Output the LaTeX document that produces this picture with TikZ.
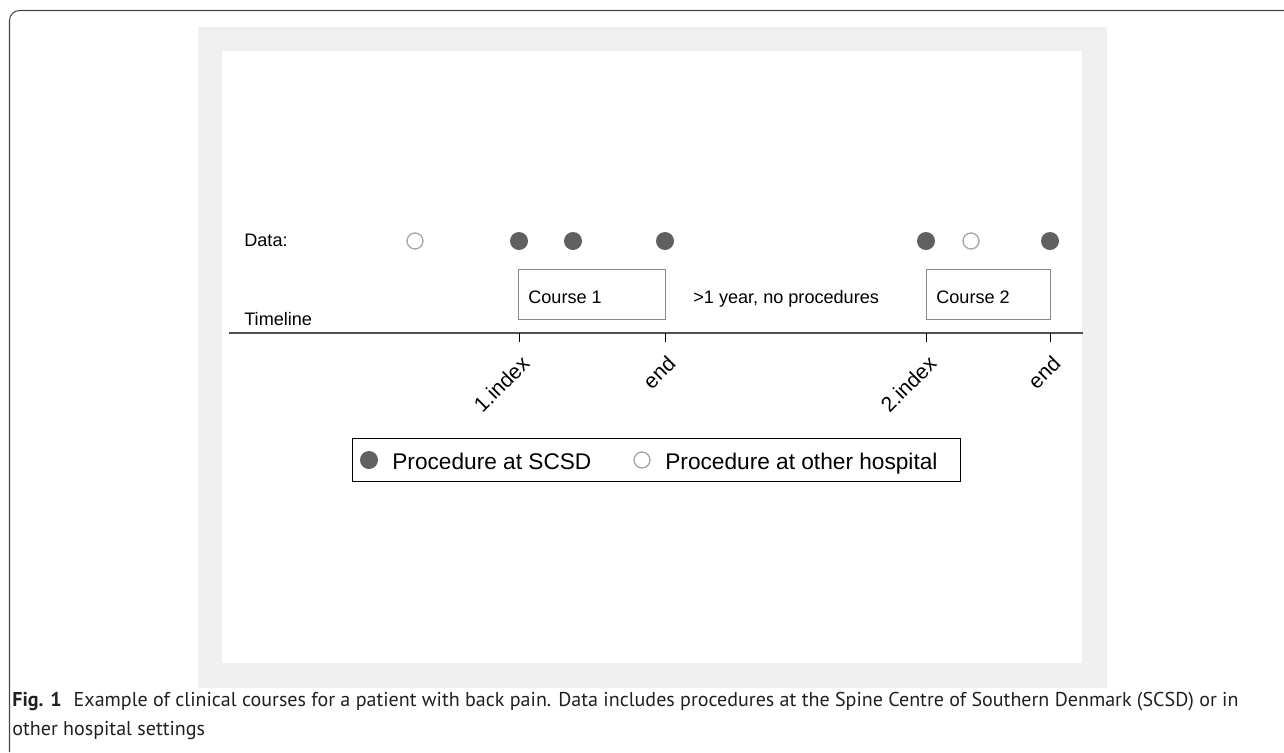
\documentclass[tikz,border=0pt]{standalone}
\usepackage{fontspec}
\setmainfont{Liberation Sans}
\newfontfamily\capfont{PT Sans}
\usetikzlibrary{positioning}
\definecolor{panelgray}{RGB}{240,240,240}
\definecolor{dotgray}{RGB}{96,96,96}
\definecolor{ringgray}{RGB}{165,165,165}
\definecolor{boxgray}{RGB}{136,136,136}
\definecolor{axisgray}{RGB}{80,80,80}
\definecolor{framegray}{RGB}{70,70,70}
\definecolor{captext}{RGB}{35,31,32}

\begin{document}
\begin{tikzpicture}[
        x=0.02cm, y=-0.02cm,
        plottext/.style={font=\fontsize{10.3}{12}\selectfont, inner sep=0pt},
        legtext/.style={font=\fontsize{12.9}{15}\selectfont, inner sep=0pt},
        captxt/.style={font=\capfont\fontsize{11.4}{13}\selectfont, text=captext, inner sep=0pt},
        scsd/.style={circle, fill=dotgray, minimum size=0.36cm, inner sep=0pt},
        other/.style={circle, draw=ringgray, line width=0.75pt, fill=white, minimum size=0.32cm, inner sep=0pt},
        coursebox/.style={draw=boxgray, line width=0.75pt, minimum width=2.94cm, minimum height=1cm, inner sep=0pt},
        tickmark/.style={draw=black, line width=0.5pt},
        ticklbl/.style={font=\fontsize{12}{14}\selectfont, inner sep=0pt, rotate=45, anchor=north east}
    ]
        \useasboundingbox (0,0) rectangle (1284,752);
        % outer frame and graph panel
        \draw[framegray, line width=0.6pt, rounded corners=0.2cm] (1284,10.5) -- (9.5,10.5) -- (9.5,752);
        \fill[panelgray] (198,27) rectangle (1107,688);
        \fill[white] (222,51) rectangle (1082,663);

        % row labels
        \node[plottext, anchor=base west] (datalbl) at (244,246) {Data:};
        \node[plottext, anchor=base west] (timelbl) at (244,325) {Timeline};

        % timeline axis and ticks
        \coordinate (axisL) at (229,333);
        \coordinate (axisR) at (1083,333);
        \draw[axisgray, line width=1pt] (axisL) -- (axisR);
        \coordinate (idx1) at (519,333);
        \coordinate (end1) at (665,333);
        \coordinate (idx2) at (926,333);
        \coordinate (end2) at (1050,333);
        \foreach \t/\lbl in {idx1/1.index, end1/end, idx2/2.index, end2/end}{
            \draw[tickmark] (\t) -- ++(0,9);
            \node[ticklbl] (\t-lbl) at ([shift={(1,21)}]\t) {\lbl};
        }

        % courses
        \node[coursebox, anchor=north west] (course1) at (518,269) {};
        \node[plottext, anchor=base west] (course1lbl) at (528,303.5) {Course 1};
        \node[coursebox, anchor=north west, minimum width=2.48cm] (course2) at (926,269) {};
        \node[plottext, anchor=base west] (course2lbl) at (936,303.5) {Course 2};
        \node[plottext, anchor=base west] (gaplbl) at (693,303.5) {>1 year, no procedures};

        % data points
        \node[other] (d1) at (415,241) {};
        \node[scsd] (d2) at (519,241) {};
        \node[scsd] (d3) at (573,241) {};
        \node[scsd] (d4) at (665,241) {};
        \node[scsd] (d5) at (926,241) {};
        \node[other] (d6) at (971,241) {};
        \node[scsd] (d7) at (1050,241) {};

        % legend
        \node[draw=black, line width=0.7pt, anchor=north west, minimum width=12.17cm, minimum height=0.86cm, inner sep=0pt] (legend) at (351.5,438) {};
        \node[scsd] (legscsd) at (369,460) {};
        \node[legtext, anchor=base west] (legscsdlbl) at (392,469) {Procedure at SCSD};
        \node[other] (legother) at (642,460) {};
        \node[legtext, anchor=base west] (legotherlbl) at (665,469) {Procedure at other hospital};

        % caption
        \node[captxt, anchor=base west] (cap1) at (12,706) {\textbf{Fig. 1}\hspace{0.6em}Example of clinical courses for a patient with back pain. Data includes procedures at the Spine Centre of Southern Denmark (SCSD) or in};
        \node[captxt, anchor=base west] (cap2) at (12,735) {other hospital settings};
    \end{tikzpicture}
\end{document}
